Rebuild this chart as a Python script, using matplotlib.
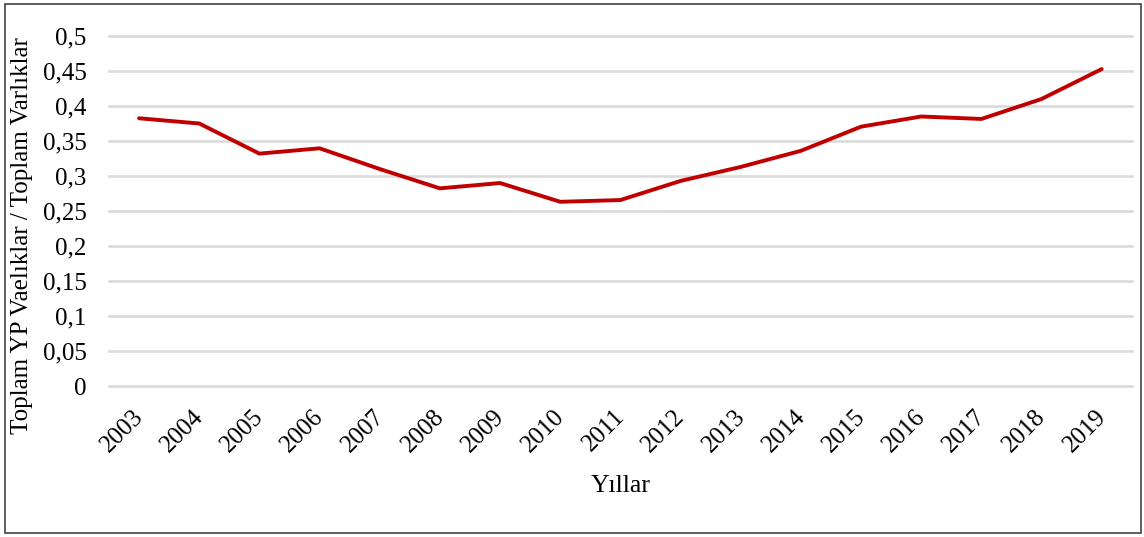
import numpy as np
import matplotlib
matplotlib.use('Agg')
import matplotlib.pyplot as plt
from matplotlib.patches import Rectangle
from matplotlib.transforms import ScaledTranslation

plt.rcParams['font.family'] = ['Liberation Serif', 'DejaVu Serif']

# data
years = ['2003', '2004', '2005', '2006', '2007', '2008', '2009', '2010', '2011',
         '2012', '2013', '2014', '2015', '2016', '2017', '2018', '2019']
ratio = [0.3825, 0.375, 0.332, 0.3396, 0.310, 0.2824, 0.290, 0.2632, 0.2657,
         0.293, 0.313, 0.336, 0.3705, 0.385, 0.3815, 0.410, 0.4527]
yticks = [0, 0.05, 0.1, 0.15, 0.2, 0.25, 0.3, 0.35, 0.4, 0.45, 0.5]

fig = plt.figure(figsize=(11.44, 5.37), dpi=100)
ax = fig.add_axes([0.0953, 0.281, 0.894, 0.652])

x = np.arange(len(years))
ax.plot(x, ratio, color='#C00000', linewidth=2.8, solid_capstyle='round', zorder=3)

ax.set_xlim(-0.5, len(years) - 0.5)
ax.set_ylim(0, 0.5)
ax.set_yticks(yticks)
ax.set_yticklabels([('%g' % v).replace('.', ',') for v in yticks], fontsize=18)
ax.set_xticks(x)
ax.set_xticklabels(years, rotation=45, ha='right', rotation_mode='anchor', fontsize=18)
ax.tick_params(axis='both', length=0)
ax.tick_params(axis='y', pad=16)
ax.tick_params(axis='x', pad=14)
shift = ScaledTranslation(-0.07, 0, fig.dpi_scale_trans)
for lbl in ax.get_xticklabels():
    lbl.set_transform(lbl.get_transform() + shift)

ax.grid(axis='y', color='#D9D9D9', linewidth=1.8)
for gl in ax.get_ygridlines():
    gl.set_clip_on(False)
ax.set_axisbelow(True)
for s in ax.spines.values():
    s.set_visible(False)

ax.set_ylabel('Toplam YP Vaelıklar / Toplam Varlıklar', fontsize=18)
ax.yaxis.set_label_coords(-0.0743, 0.43)
ax.set_xlabel('Yıllar', fontsize=18.5)
ax.xaxis.set_label_coords(0.5, -0.255)

fig.patches.append(Rectangle((0.0044, 0.0074), 0.993, 0.985, transform=fig.transFigure,
                             fill=False, edgecolor='#333333', linewidth=1.1))

fig.savefig('out.png', dpi=100)
